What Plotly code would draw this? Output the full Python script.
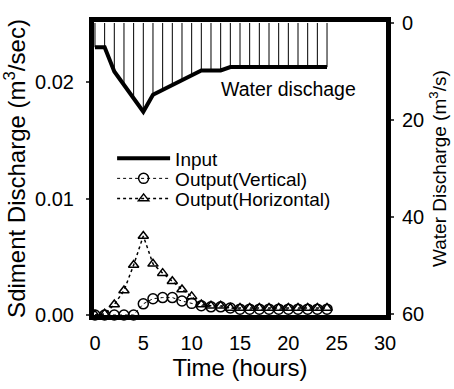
import plotly.graph_objects as go

hours = list(range(0, 25))
water_input = [5, 5, 10, 12.8, 15.5, 18.3, 14.8, 13.8, 12.8, 11.8, 10.8, 9.8, 9.8, 9.8,
               9.1, 9.1, 9.1, 9.1, 9.1, 9.1, 9.1, 9.1, 9.1, 9.1, 9.1]
sed_vertical = [0, 0, 0, 0, 0, 0.00096, 0.0014, 0.0015, 0.0015, 0.0012, 0.0010, 0.0008,
                0.0007, 0.0007, 0.0006, 0.0005, 0.0005, 0.0005, 0.0005, 0.0005, 0.0005,
                0.0005, 0.0005, 0.0005, 0.0005]
sed_horizontal = [0, 0.0001, 0.0009, 0.0021, 0.0043, 0.0068, 0.0044, 0.0036, 0.0029, 0.0022,
                  0.0016, 0.0009, 0.0008, 0.0008, 0.0006, 0.0006, 0.0006, 0.0006, 0.0006,
                  0.0006, 0.0006, 0.0006, 0.0006, 0.0006, 0.0006]

x_ticks = [0, 5, 10, 15, 20, 25, 30]
y_ticks = [0.00, 0.01, 0.02]
y_tick_labels = ["0.00", "0.01", "0.02"]
y2_ticks = [0, 20, 40, 60]

FONT = "Liberation Sans, Arial, sans-serif"

# hatch lines from 0 down to the hydrograph
hx, hy = [], []
for t, q in zip(hours, water_input):
    hx += [t, t, None]
    hy += [0, q, None]

fig = go.Figure()
fig.add_trace(go.Scatter(x=hx, y=hy, yaxis="y2", mode="lines",
                         line=dict(color="black", width=1), showlegend=False,
                         hoverinfo="skip", cliponaxis=False))
fig.add_trace(go.Scatter(x=hours, y=water_input, yaxis="y2", mode="lines", name="Input",
                         line=dict(color="black", width=4), cliponaxis=False,
                         legend="legend"))
fig.add_trace(go.Scatter(x=hours, y=sed_vertical, mode="lines+markers", name="Output(Vertical)",
                         line=dict(color="black", width=1, dash="dot"),
                         marker=dict(symbol="circle-open", size=10, color="black",
                                     line=dict(width=1.5)),
                         cliponaxis=False, legend="legend2"))
fig.add_trace(go.Scatter(x=hours, y=sed_horizontal, mode="lines+markers", name="Output(Horizontal)",
                         line=dict(color="black", width=1.5, dash="dot"),
                         marker=dict(symbol="triangle-up-open", size=9, color="black",
                                     line=dict(width=1.5)),
                         cliponaxis=False, legend="legend3"))

fig.add_annotation(x=20.0, y=13.6, xref="x", yref="y2", text="Water dischage",
                   showarrow=False, font=dict(size=19.5, color="black", family=FONT))

# right-axis title placed explicitly so it fits inside the page
fig.add_annotation(x=(438 - 91) / 295.0, y=0.5, xref="paper", yref="paper",
                   text="Water Discharge (m<sup>3</sup>/s)", textangle=-90,
                   showarrow=False, xanchor="center", yanchor="middle",
                   font=dict(size=19, color="black", family=FONT))

# plot area: left 91, right 386, top 12, bottom 319 (px)
def py(ypx):
    return (319 - ypx) / 307.0

LX = 0.062
leg_common = dict(x=LX, xanchor="left", yanchor="middle", bgcolor="rgba(0,0,0,0)",
                  font=dict(size=19, family=FONT, color="black"), itemwidth=53,
                  borderwidth=0)

fig.update_layout(
    width=454, height=389,
    margin=dict(l=91, r=68, t=12, b=70),
    paper_bgcolor="white", plot_bgcolor="white",
    font=dict(family=FONT, size=20, color="black"),
    showlegend=True,
    legend=dict(y=py(155), **leg_common),
    legend2=dict(y=py(176), **leg_common),
    legend3=dict(y=py(197), **leg_common),
    xaxis=dict(range=[-0.1, 30.1], tickvals=x_ticks, showgrid=False, zeroline=False,
               showline=True, linecolor="black", linewidth=5, mirror=True,
               ticks="", ticklabelstandoff=6,
               title=dict(text="Time (hours)", standoff=6)),
    yaxis=dict(range=[0, 0.0252], tickvals=y_ticks, ticktext=y_tick_labels,
               showgrid=False, zeroline=False, showline=True, linecolor="black",
               linewidth=5, ticks="outside", ticklen=3, tickwidth=1.5,
               ticklabelstandoff=8,
               title=dict(text="Sdiment Discharge (m<sup>3</sup>/sec)", standoff=6)),
    yaxis2=dict(range=[60.2, -0.2], tickvals=y2_ticks, overlaying="y", side="right",
                showgrid=False, zeroline=False, showline=True, linecolor="black",
                linewidth=5, ticks="outside", ticklen=3, tickwidth=1.5,
                ticklabelstandoff=4),
)

fig.write_html("out.html", config={"displayModeBar": False},
               post_script="document.body.style.margin='0';document.body.style.padding='0';")
